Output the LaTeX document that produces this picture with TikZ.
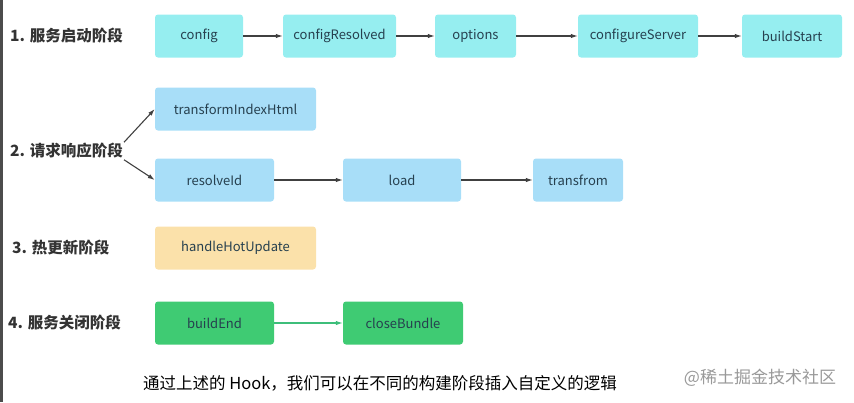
\documentclass[tikz,border=0pt]{standalone}
\usepackage{fontspec}
\setmainfont{Noto Sans CJK SC}
\usetikzlibrary{positioning,arrows.meta}

\definecolor{cyanbox}{HTML}{96EEF0}
\definecolor{bluebox}{HTML}{A8DEF8}
\definecolor{orangebox}{HTML}{FBE1AA}
\definecolor{greenbox}{HTML}{3FCB73}
\definecolor{boxtext}{HTML}{26404F}
\definecolor{greenline}{HTML}{3DBE7A}

\begin{document}
\begin{tikzpicture}[
x=1pt, y=-1pt,
hook/.style={
  draw=none,
  rounded corners=3pt,
  minimum height=43pt,
  inner sep=0pt,
  text=boxtext,
  font=\fontsize{13}{15}\selectfont
  },
start/.style={hook, fill=cyanbox},
request/.style={hook, fill=bluebox},
hot/.style={hook, fill=orangebox},
close/.style={hook, fill=greenbox},
stagelabel/.style={
  anchor=west,
  inner sep=1pt,
  text=black!80,
  font=\fontsize{15.5}{18}\selectfont\bfseries
  },
link/.style={
  draw=black!75,
  line width=1.1pt,
  -{Latex[length=7pt,width=4.5pt]}
  }
]
\useasboundingbox (0,0) rectangle (854,402);
\fill[black!70] (0,0) rectangle (3,402);

% stage labels
\node[stagelabel] (s1) at (9,36) {1. 服务启动阶段};
\node[stagelabel] (s2) at (9,151) {2. 请求响应阶段};
\node[stagelabel] (s3) at (11,248) {3. 热更新阶段};
\node[stagelabel] (s4) at (7,323) {4. 服务关闭阶段};

% 1
\node[start, minimum width=88pt] (config) at (199,36) {config};
\node[start, minimum width=113pt] (configResolved) at (339.5,36) {configResolved};
\node[start, minimum width=81pt] (options) at (475.5,36) {options};
\node[start, minimum width=120pt] (configureServer) at (638,36) {configureServer};
\node[start, minimum width=100pt] (buildStart) at (792,36) {buildStart};

% 2
\node[request, minimum width=161pt] (indexHtml) at (235.5,109) {transformIndexHtml};
\node[request, minimum width=119pt] (resolveId) at (214.5,180) {resolveId};
\node[request, minimum width=118pt] (load) at (402,180) {load};
\node[request, minimum width=90pt] (transfrom) at (578,180) {transfrom};

% 3
\node[hot, minimum width=161pt] (hotUpdate) at (235.5,248) {handleHotUpdate};

% 4
\node[close, minimum width=119pt] (buildEnd) at (214.5,323) {buildEnd};
\node[close, minimum width=120pt] (closeBundle) at (403,323) {closeBundle};

\foreach \a/\b in {config/configResolved,configResolved/options,options/configureServer,configureServer/buildStart,resolveId/load,load/transfrom}
  \draw[link] (\a) -- (\b);

\draw[link] (s2.north east) -- (indexHtml.west);
\draw[link] (s2.south east) -- (resolveId.west);
\draw[link, draw=greenline] (buildEnd) -- (closeBundle);

\node[font=\fontsize{16.5}{18}\selectfont] (caption) at (380,383) {通过上述的 Hook，我们可以在不同的构建阶段插入自定义的逻辑};
\node[font=\fontsize{17}{19}\selectfont, text=black!40] (mark) at (760,378) {@稀土掘金技术社区};
\end{tikzpicture}
\end{document}
